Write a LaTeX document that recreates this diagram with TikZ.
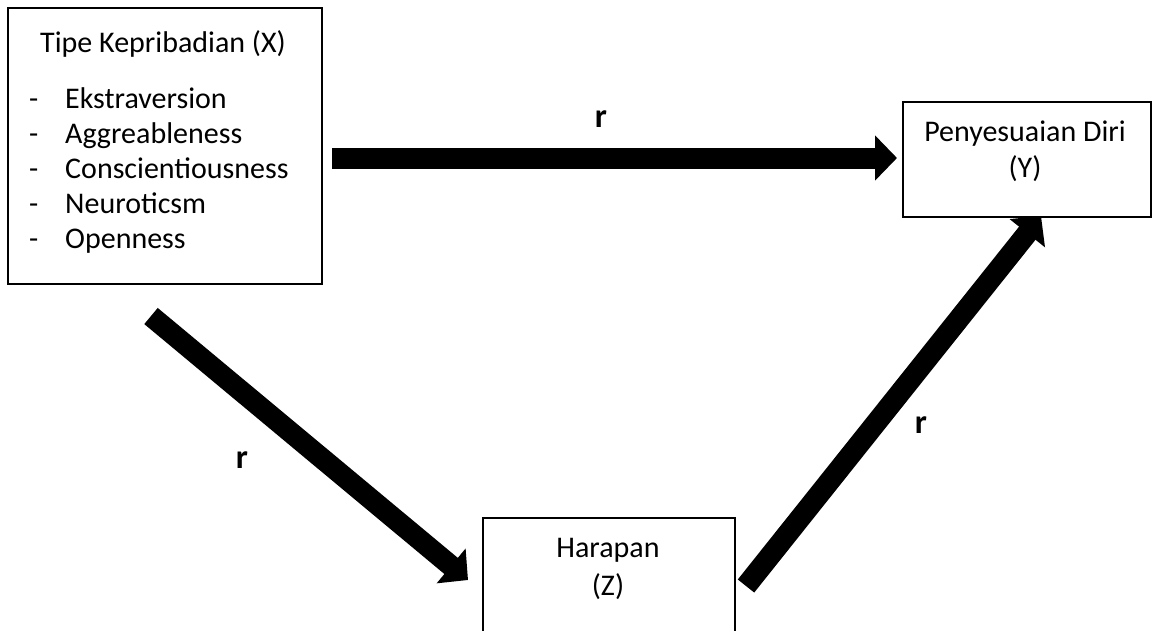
\documentclass[tikz,border=0pt]{standalone}
\usepackage{fontspec}
\setmainfont{Carlito}
\usetikzlibrary{arrows.meta}
\begin{document}
\begin{tikzpicture}[x=1pt,y=-1pt,
  box/.style={draw,line width=1.6pt,inner sep=0pt,fill=white},
  txt/.style={inner sep=0pt,font=\fontsize{30}{35}\selectfont},
  lbl/.style={inner sep=0pt,font=\fontsize{34}{40}\selectfont\bfseries},
  bigarrow/.style={line width=21pt,-{Triangle[width=44pt,length=22pt]}}]
\clip (0,0) rectangle (1153,630);
\fill[white] (0,0) rectangle (1153,630);
% boxes
\node[box,minimum width=314pt,minimum height=276pt] (X) at (165,146) {};
\node[box,minimum width=248pt,minimum height=115pt] (Y) at (1027,159.5) {};
\node[box,minimum width=252pt,minimum height=132pt] (Z) at (609,584) {};
% texts in X
\node[txt,anchor=base] (xt) at (163,52) {Tipe Kepribadian (X)};
\foreach \i/\w in {0/Ekstraversion,1/Aggreableness,2/Conscientiousness,3/Neuroticsm,4/Openness}{
  \node[txt,anchor=base west] (d\i) at (29,108+35*\i) {-};
  \node[txt,anchor=base west] (w\i) at (65,108+35*\i) {\w};
}
% texts in Y
\node[txt,anchor=base] (yt1) at (1025,141) {Penyesuaian Diri};
\node[txt,anchor=base] (yt2) at (1025,177) {(Y)};
% texts in Z
\node[txt,anchor=base] (zt1) at (608,557) {Harapan};
\node[txt,anchor=base] (zt2) at (608,595) {(Z)};
% arrow endpoints
\coordinate (a1s) at (332,158);
\coordinate (a1e) at (897,158);
\coordinate (a2s) at (151,316);
\coordinate (a2e) at (468,580);
\coordinate (a3s) at (746,586);
\coordinate (a3e) at (1041,216);
\draw[bigarrow] (a1s) -- (a1e);
\draw[bigarrow] (a2s) -- (a2e);
\draw[bigarrow] (a3s) -- (a3e);
% labels
\node[lbl,anchor=base] (r1) at (601,127) {r};
\node[lbl,anchor=base] (r2) at (242,468) {r};
\node[lbl,anchor=base] (r3) at (921,433) {r};
\end{tikzpicture}
\end{document}
